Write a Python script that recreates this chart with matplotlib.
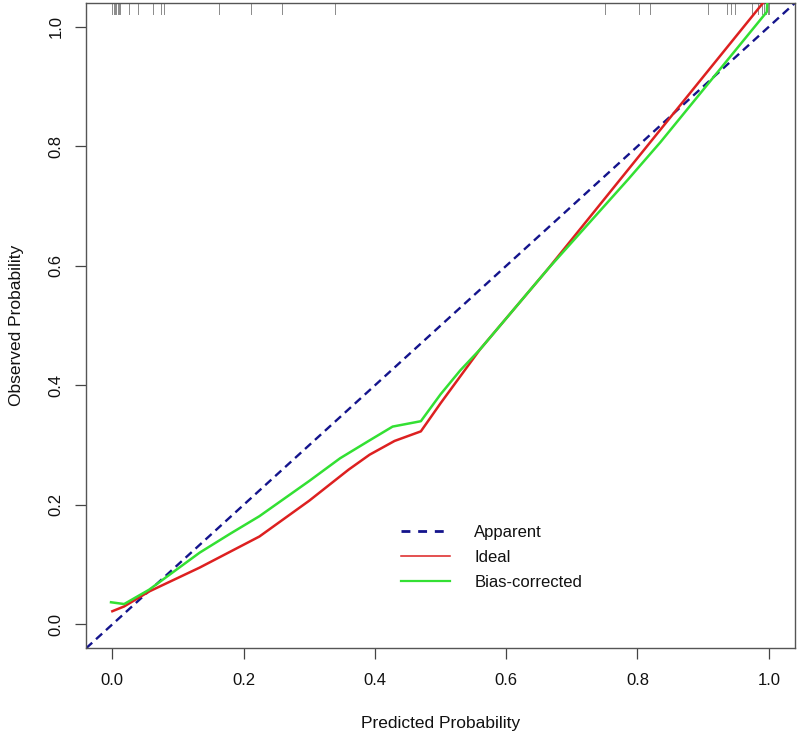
import matplotlib
matplotlib.use("Agg")
import matplotlib.pyplot as plt
import matplotlib.transforms as mtransforms
from matplotlib.lines import Line2D

plt.rcParams['font.family'] = ['Liberation Sans', 'DejaVu Sans']

# Apparent (diagonal reference)
apparent_x = [-0.04, 1.04]
apparent_y = [-0.04, 1.04]

# Ideal (red)
ideal_x = [0.0, 0.018, 0.056, 0.133, 0.224, 0.30, 0.36, 0.392, 0.43, 0.47, 0.50, 0.53, 0.56, 0.663, 0.774, 0.835, 0.992]
ideal_y = [0.022, 0.030, 0.055, 0.095, 0.147, 0.207, 0.259, 0.284, 0.307, 0.323, 0.370, 0.415, 0.460, 0.594, 0.745, 0.828, 1.041]

# Bias-corrected (green)
bias_x = [-0.002, 0.018, 0.056, 0.133, 0.18, 0.224, 0.30, 0.347, 0.392, 0.427, 0.47, 0.50, 0.53, 0.56, 0.663, 0.786, 0.835, 0.997, 0.998]
bias_y = [0.037, 0.034, 0.058, 0.120, 0.152, 0.181, 0.240, 0.278, 0.308, 0.331, 0.340, 0.385, 0.425, 0.460, 0.594, 0.745, 0.807, 1.025, 1.045]

# Rug of predicted probabilities (top)
rug_x = [0.0, 0.002, 0.004, 0.006, 0.008, 0.010, 0.012, 0.026, 0.039, 0.062, 0.074, 0.079,
         0.163, 0.211, 0.258, 0.339, 0.750, 0.802, 0.819, 0.908, 0.937, 0.943, 0.949,
         0.975, 0.983, 0.989, 0.993, 0.996, 0.999, 1.0]

legend_labels = ['Apparent', 'Ideal', 'Bias-corrected']
ticks = [0.0, 0.2, 0.4, 0.6, 0.8, 1.0]
tick_labels = ['0.0', '0.2', '0.4', '0.6', '0.8', '1.0']

navy, red, green = '#14148c', '#dd2020', '#33e033'

fig = plt.figure(figsize=(7.97, 7.35), dpi=100)
ax = fig.add_axes([0.108, 0.118, 0.8895, 0.878])

ax.plot(apparent_x, apparent_y, color=navy, lw=1.7, linestyle=(0, (3.5, 2.2)), zorder=2)
ax.plot(ideal_x, ideal_y, color=red, lw=1.8, zorder=3)
ax.plot(bias_x, bias_y, color=green, lw=1.8, zorder=4)

trans = mtransforms.blended_transform_factory(ax.transData, ax.transAxes)
for xv in rug_x:
    ax.plot([xv, xv], [1.0, 0.983], transform=trans, color='#8a8a8a', lw=0.7, zorder=1,
            clip_on=False)

ax.set_xlim(-0.04, 1.04)
ax.set_ylim(-0.04, 1.04)
ax.set_xticks(ticks)
ax.set_xticklabels(tick_labels)
ax.set_yticks(ticks)
ax.set_yticklabels(tick_labels, rotation=90, va='center')
ax.tick_params(axis='both', direction='out', length=8, width=0.9, color='#444444',
               labelsize=12, labelcolor='#111111')
ax.tick_params(axis='x', pad=10)
ax.tick_params(axis='y', pad=8)
for s in ax.spines.values():
    s.set_color('#555555')
    s.set_linewidth(1.0)

ax.set_xlabel('Predicted Probability', fontsize=12.5, color='#111111', labelpad=20)
ax.set_ylabel('Observed Probability', fontsize=12.5, color='#111111', labelpad=18)

handles = [
    Line2D([], [], color=navy, lw=2.0, linestyle=(0, (3.2, 2.8))),
    Line2D([], [], color=red, lw=1.1),
    Line2D([], [], color=green, lw=1.6),
]
leg = ax.legend(handles, legend_labels, loc='upper left', bbox_to_anchor=(0.423, 0.215),
                frameon=False, fontsize=12, handlelength=2.95, handletextpad=1.45,
                labelspacing=0.6)
for t in leg.get_texts():
    t.set_color('#111111')

fig.savefig('out.png', dpi=100)
